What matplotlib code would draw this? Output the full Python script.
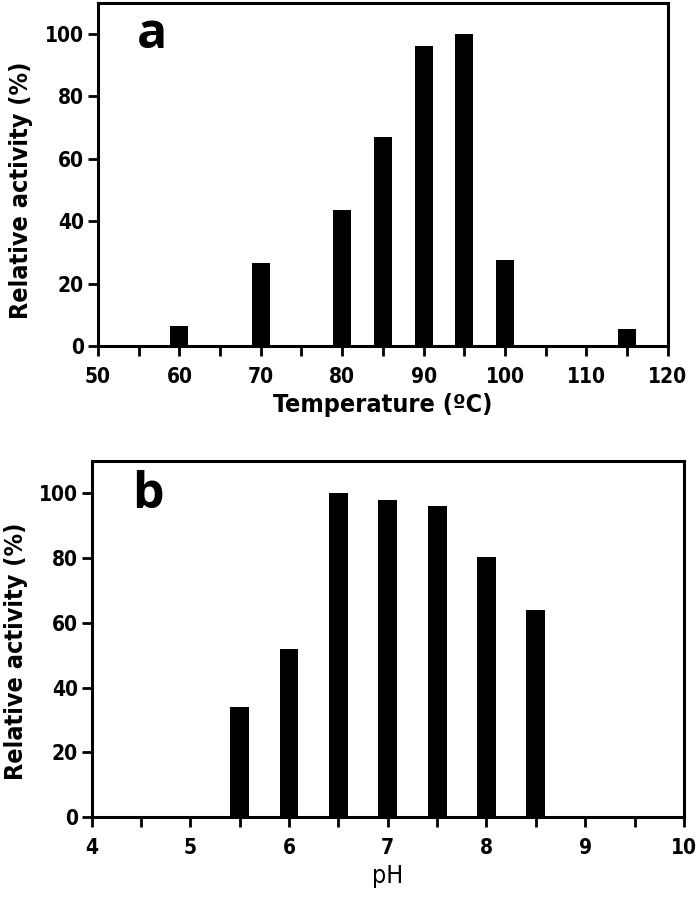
import matplotlib
matplotlib.use("Agg")
import matplotlib.pyplot as plt
from matplotlib.ticker import MultipleLocator

plt.rcParams['font.family'] = ['DejaVu Sans']
plt.rcParams['font.stretch'] = 'condensed'

temp = [60, 70, 80, 85, 90, 95, 100, 115]
temp_activity = [6.5, 26.5, 43.5, 67, 96, 100, 27.5, 5.5]
ph = [5.5, 6, 6.5, 7, 7.5, 8, 8.5]
ph_activity = [34, 52, 100, 98, 96, 80.5, 64]

fig = plt.figure(figsize=(7, 8.97), dpi=100)
ax1 = fig.add_axes([0.140, 0.614, 0.814, 0.383])
ax2 = fig.add_axes([0.131, 0.089, 0.846, 0.397])

def style(ax):
    for s in ax.spines.values():
        s.set_linewidth(2.2)
    ax.tick_params(axis='both', which='both', direction='out', width=2)
    ax.tick_params(axis='both', which='major', length=7, labelsize=15)
    ax.tick_params(axis='x', which='both', pad=8)
    ax.tick_params(axis='y', which='major', pad=3)
    ax.tick_params(axis='x', which='minor', length=7)
    ax.tick_params(axis='y', which='minor', left=False)
    for lab in ax.get_xticklabels() + ax.get_yticklabels():
        lab.set_fontweight('bold')
    ax.set_ylim(0, 110)
    ax.set_yticks([0, 20, 40, 60, 80, 100])
    ax.set_ylabel('Relative activity (%)', fontsize=18, fontweight='bold')

ax1.bar(temp, temp_activity, width=2.2, color='black')
ax1.set_xlim(50, 120)
ax1.xaxis.set_major_locator(MultipleLocator(10))
ax1.xaxis.set_minor_locator(MultipleLocator(5))
style(ax1)
ax1.yaxis.set_label_coords(-0.114, 0.455)
ax1.set_xlabel('Temperature (ºC)', fontsize=18, fontweight='bold', labelpad=4)
ax1.text(0.095, 0.905, 'a', transform=ax1.transAxes, fontsize=36, fontweight='bold',
         ha='center', va='center', family=['Open Sans', 'DejaVu Sans'], fontstretch='normal')

ax2.bar(ph, ph_activity, width=0.19, color='black')
ax2.set_xlim(4, 10)
ax2.xaxis.set_major_locator(MultipleLocator(1))
ax2.xaxis.set_minor_locator(MultipleLocator(0.5))
style(ax2)
ax2.yaxis.set_label_coords(-0.108, 0.467)
ax2.set_xlabel('pH', fontsize=18, labelpad=4)
ax2.text(0.095, 0.905, 'b', transform=ax2.transAxes, fontsize=36, fontweight='bold',
         ha='center', va='center', family=['Open Sans', 'DejaVu Sans'], fontstretch='normal')

fig.savefig('out.png', dpi=100)
